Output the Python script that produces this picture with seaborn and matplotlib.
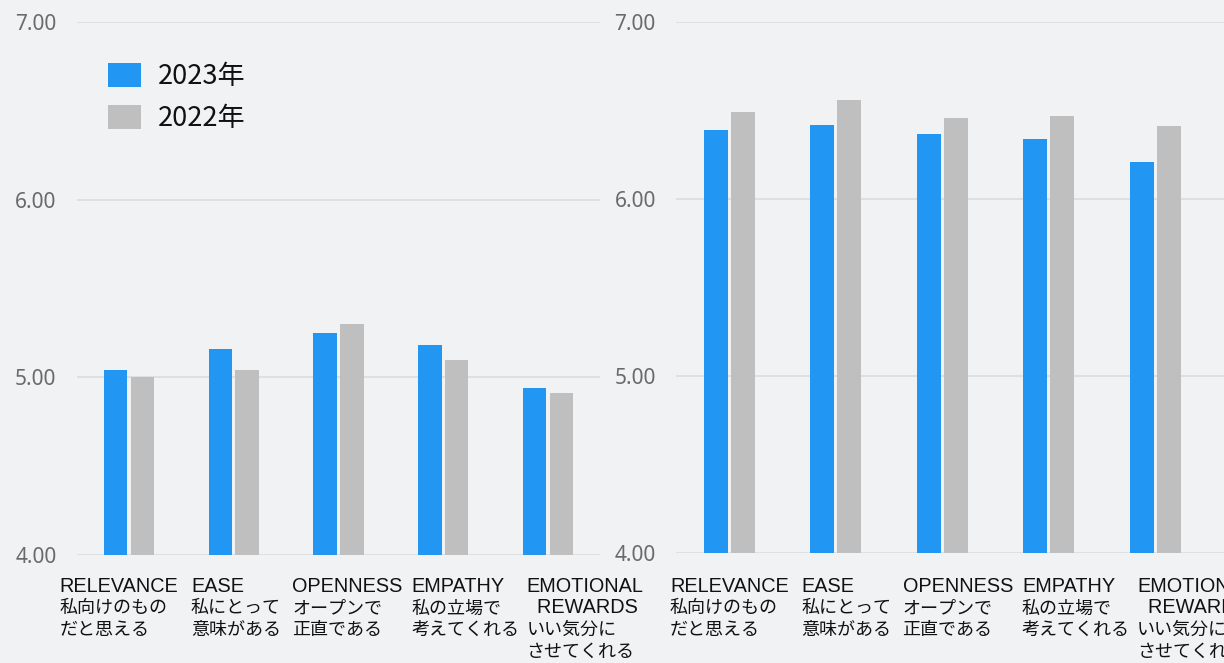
import matplotlib
matplotlib.use("Agg")
import matplotlib.pyplot as plt
from matplotlib.patches import Patch
import pandas as pd
import seaborn as sns

# Scores per brand attribute (two survey panels), 2023 vs 2022
categories = ["RELEVANCE", "EASE", "OPENNESS", "EMPATHY", "EMOTIONAL REWARDS"]
years = ["2023年", "2022年"]
left_2023 = [5.04, 5.16, 5.25, 5.18, 4.94]
left_2022 = [5.00, 5.04, 5.30, 5.10, 4.91]
right_2023 = [6.39, 6.42, 6.37, 6.34, 6.21]
right_2022 = [6.49, 6.56, 6.46, 6.47, 6.41]
y_ticks = [4.0, 5.0, 6.0, 7.0]

# Category captions: English lines, then Japanese lines
label_en = [["RELEVANCE"], ["EASE"], ["OPENNESS"], ["EMPATHY"], ["EMOTIONAL", "  REWARDS"]]
label_ja = [["私向けのもの", "だと思える"], ["私にとって", "意味がある"], ["オープンで", "正直である"],
            ["私の立場で", "考えてくれる"], ["いい気分に", "させてくれる"]]

BG = "#F1F2F4"
BLUE = "#2196F3"
GREY = "#BFBFBF"
GRID = "#DCDDE0"

sns.set_theme(style="white")
plt.rcParams["font.family"] = ["Noto Sans", "Noto Sans CJK JP", "DejaVu Sans"]

W, H = 1224, 663
fig = plt.figure(figsize=(W / 100, H / 100), dpi=100, facecolor=BG)


def frame(vals_a, vals_b):
    return pd.DataFrame({
        "category": categories * 2,
        "year": [years[0]] * len(categories) + [years[1]] * len(categories),
        "score": list(vals_a) + list(vals_b),
    })


def panel(rect, vals_a, vals_b, xmax):
    ax = fig.add_axes(rect)
    ax.set_facecolor(BG)
    sns.barplot(data=frame(vals_a, vals_b), x="category", y="score", hue="year",
                hue_order=years, palette=[BLUE, GREY], saturation=1, width=0.51, gap=0.12,
                legend=False, ax=ax, zorder=3, edgecolor="none")
    ax.set_ylim(4.0, 7.0)
    ax.set_xlim(-0.5, xmax)
    ax.set_yticks(y_ticks)
    ax.set_yticklabels([f"{t:.2f}" for t in y_ticks])
    ax.yaxis.grid(True, color=GRID, linewidth=1.3, zorder=0)
    ax.xaxis.grid(False)
    ax.tick_params(axis="y", length=0, pad=14.5, labelsize=15, labelcolor="#6A6A6A")
    ax.tick_params(axis="x", length=0)
    ax.set_xticklabels([])
    ax.set_xlabel("")
    ax.set_ylabel("")
    for s in ax.spines.values():
        s.set_visible(False)
    for lab in ax.get_yticklabels():
        lab.set_fontfamily(["Noto Sans", "DejaVu Sans"])
    return ax


ax_l = panel([76.6 / W, 1 - 555 / H, 523.8 / W, 533 / H], left_2023, left_2022, 4.5)
ax_r = panel([676 / W, 1 - 553 / H, 548 / W, 531 / H], right_2023, right_2022, 4.645)

# Category captions under each panel (left edges in pixels)
label_left = [59.5, 191, 292, 411.5, 526.5]
baselines = [591.7, 613.4, 635.1, 656.8]
for shift in (0, 610.5):
    for x0, en, ja in zip(label_left, label_en, label_ja):
        row = 0
        for line in en:
            fig.text((x0 + shift) / W, 1 - baselines[row] / H, line, ha="left", va="baseline",
                     fontsize=14.3, color="#111111", family=["Liberation Sans", "DejaVu Sans"])
            row += 1
        for line in ja:
            fig.text((x0 + shift) / W, 1 - baselines[row] / H, line, ha="left", va="baseline",
                     fontsize=13, color="#111111", family=["Noto Sans CJK JP", "DejaVu Sans"])
            row += 1

handles = [Patch(facecolor=BLUE, edgecolor="none"), Patch(facecolor=GREY, edgecolor="none")]
leg = ax_l.legend(handles, years, loc="upper left", bbox_to_anchor=(108 / W, 1 - 62.5 / H),
                  bbox_transform=fig.transFigure, frameon=False, borderpad=0, borderaxespad=0,
                  handlelength=1.22, handleheight=1.0, handletextpad=0.62, labelspacing=0.55,
                  prop={"family": ["Noto Sans CJK JP"], "size": 19.5})
for t in leg.get_texts():
    t.set_color("#111111")

fig.savefig("out.png", dpi=100, facecolor=BG)
